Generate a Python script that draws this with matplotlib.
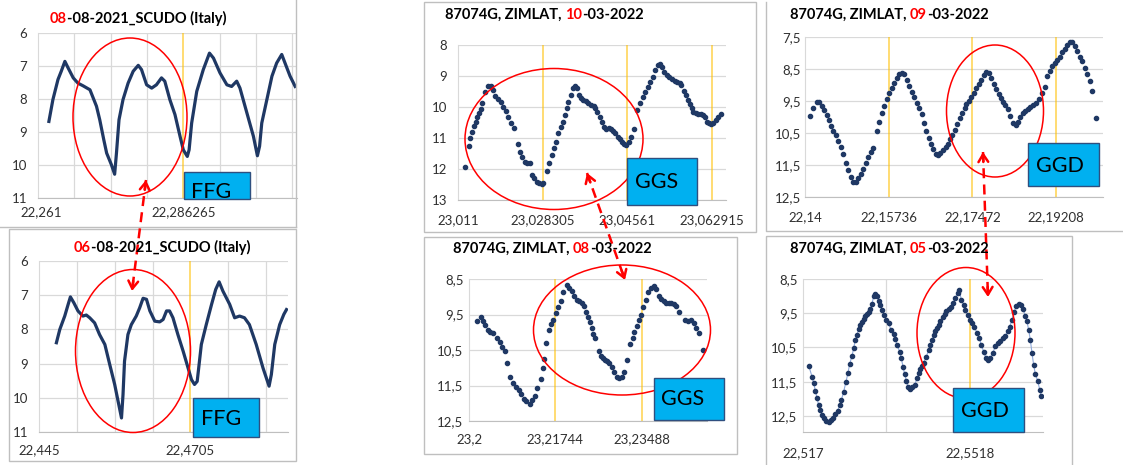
import numpy as np
import matplotlib.pyplot as plt
from matplotlib.patches import Ellipse, Rectangle

plt.rcParams['font.family'] = ['Lato', 'DejaVu Sans']

W, H = 1123, 465
NAVY = '#1F3864'
ORANGE = '#FFC000'
GRID = '#D9D9D9'
FRAME = '#BFBFBF'
TAGBLUE = '#00B0F0'

# ---- data: x in steps between labelled ticks, y as on the axis ----
# 08-08-2021 SCUDO
a_x = [0.30, 0.41, 0.55, 0.64, 0.74, 0.83, 0.97, 1.10, 1.24, 1.35, 1.43, 1.61, 1.70, 1.81, 1.89,
       2.02, 2.11, 2.16, 2.23, 2.34, 2.48, 2.62, 2.76, 2.85, 2.99, 3.13, 3.26, 3.40, 3.49, 3.63,
       3.77, 3.91, 4.00, 4.11, 4.16, 4.23, 4.37, 4.55, 4.72, 4.83, 5.01, 5.20, 5.33, 5.47, 5.56,
       5.75, 5.93, 6.04, 6.10, 6.16, 6.30, 6.44, 6.57, 6.71, 6.80, 6.94, 7.08]
a_y = [8.68, 8.02, 7.41, 7.16, 6.86, 7.06, 7.36, 7.52, 7.60, 7.67, 7.72, 8.22, 8.63, 9.23, 9.64,
       9.99, 10.28, 9.64, 8.63, 8.02, 7.52, 7.16, 6.98, 7.11, 7.57, 7.67, 7.57, 7.36, 7.46, 8.02,
       8.47, 9.13, 9.54, 9.74, 9.54, 8.73, 7.77, 7.11, 6.61, 6.76, 7.21, 7.57, 7.62, 7.46, 7.67,
       8.42, 9.13, 9.72, 9.43, 8.73, 8.02, 7.31, 6.91, 6.65, 6.91, 7.31, 7.62]
# 06-08-2021 SCUDO
b_x = [0.46, 0.55, 0.68, 0.77, 0.83, 0.92, 1.03, 1.16, 1.25, 1.34, 1.47, 1.60, 1.74, 1.87, 2.00,
       2.09, 2.18, 2.22, 2.26, 2.35, 2.44, 2.57, 2.66, 2.75, 2.84, 2.93, 3.06, 3.19, 3.28, 3.37,
       3.45, 3.54, 3.67, 3.81, 3.94, 4.03, 4.11, 4.18, 4.22, 4.29, 4.42, 4.56, 4.67, 4.76, 4.86,
       5.04, 5.17, 5.30, 5.43, 5.56, 5.74, 5.92, 6.08, 6.14, 6.23, 6.36, 6.47, 6.54]
b_y = [8.39, 8.00, 7.61, 7.27, 7.05, 7.22, 7.46, 7.61, 7.58, 7.66, 7.81, 8.15, 8.44, 9.03, 9.61,
       10.10, 10.59, 9.91, 8.93, 8.15, 7.86, 7.61, 7.37, 7.09, 7.12, 7.46, 7.76, 7.78, 7.71, 7.46,
       7.46, 7.66, 8.15, 8.64, 9.13, 9.47, 9.61, 9.52, 9.13, 8.44, 7.86, 7.27, 6.83, 6.61, 6.88,
       7.27, 7.66, 7.61, 7.66, 7.86, 8.44, 9.13, 9.66, 9.32, 8.44, 7.86, 7.56, 7.42]
# 87074G ZIMLAT 10-03-2022
c_x = [0.079, 0.127, 0.146, 0.170, 0.190, 0.210, 0.230, 0.249, 0.269, 0.289,
       0.324, 0.356, 0.388, 0.416, 0.443, 0.475, 0.507, 0.534, 0.566, 0.594,
       0.625, 0.657, 0.704, 0.732, 0.760, 0.791, 0.819, 0.851, 0.879, 0.902,
       0.930, 0.958, 0.989, 1.009, 1.049, 1.080, 1.108, 1.136, 1.163, 1.187,
       1.215, 1.239, 1.266, 1.286, 1.306, 1.334, 1.357, 1.385, 1.405, 1.433,
       1.456, 1.484, 1.512, 1.543, 1.575, 1.603, 1.622, 1.650, 1.674, 1.702,
       1.729, 1.753, 1.781, 1.808, 1.832, 1.860, 1.888, 1.911, 1.939, 1.967,
       1.987, 2.018, 2.046, 2.078, 2.117, 2.157, 2.184, 2.216, 2.244, 2.275,
       2.303, 2.335, 2.362, 2.386, 2.414, 2.442, 2.473, 2.501, 2.533, 2.564,
       2.592, 2.620, 2.643, 2.675, 2.699, 2.723, 2.742, 2.762, 2.782, 2.810,
       2.837, 2.869, 2.897, 2.920, 2.948, 2.968, 2.996, 3.019, 3.047, 3.075, 3.106]
c_y = [11.92, 11.25, 10.99, 10.80, 10.61, 10.47, 10.33, 10.20, 10.08, 9.88,
       9.51, 9.32, 9.32, 9.45, 9.63, 9.74, 9.85, 9.99, 10.13, 10.31,
       10.53, 10.69, 11.19, 11.44, 11.60, 11.78, 11.82, 11.82, 12.19, 12.30,
       12.41, 12.44, 12.48, 12.46, 12.05, 11.82, 11.55, 11.33, 11.12, 10.85,
       10.63, 10.47, 10.26, 10.04, 9.83, 9.61, 9.40, 9.31, 9.40, 9.61,
       9.72, 9.77, 9.80, 9.86, 9.94, 9.97, 10.02, 10.15, 10.31, 10.49,
       10.66, 10.72, 10.69, 10.71, 10.76, 10.85, 10.96, 11.04, 11.12, 11.20,
       11.23, 11.12, 10.96, 10.71, 10.10, 9.88, 9.67, 9.51, 9.37, 9.18,
       9.02, 8.81, 8.65, 8.61, 8.70, 8.86, 8.97, 9.02, 9.10, 9.15,
       9.20, 9.24, 9.30, 9.47, 9.61, 9.77, 9.90, 10.04, 10.15, 10.20,
       10.23, 10.24, 10.26, 10.31, 10.47, 10.53, 10.55, 10.53, 10.42, 10.31, 10.23]
# 87074G ZIMLAT 08-03-2022
d_x = [0.093, 0.135, 0.162, 0.190, 0.220, 0.248, 0.279, 0.325, 0.356, 0.383,
       0.414, 0.441, 0.480, 0.511, 0.542, 0.576, 0.607, 0.638, 0.665, 0.704,
       0.731, 0.762, 0.789, 0.828, 0.851, 0.867, 0.890, 0.925, 0.948, 0.975,
       1.002, 1.033, 1.060, 1.091, 1.130, 1.157, 1.188, 1.215, 1.246, 1.273,
       1.304, 1.331, 1.354, 1.381, 1.400, 1.420, 1.439, 1.458, 1.509, 1.524,
       1.547, 1.574, 1.602, 1.625, 1.652, 1.679, 1.710, 1.737, 1.768, 1.795,
       1.826, 1.865, 1.892, 1.915, 1.942, 1.969, 1.992, 2.019, 2.050, 2.077,
       2.108, 2.135, 2.162, 2.193, 2.220, 2.251, 2.282, 2.309, 2.336, 2.367,
       2.394, 2.425, 2.495, 2.534, 2.569, 2.600, 2.631, 2.658, 2.708]
d_y = [9.68, 9.56, 9.68, 9.79, 9.93, 10.00, 10.01, 10.17, 10.28, 10.41,
       10.53, 10.86, 11.25, 11.44, 11.54, 11.63, 11.75, 11.87, 11.94, 12.01,
       11.92, 11.80, 11.58, 11.32, 11.00, 10.74, 10.29, 9.93, 9.77, 9.65,
       9.46, 9.30, 9.13, 8.88, 8.66, 8.74, 8.85, 8.97, 9.08, 9.13,
       9.18, 9.27, 9.42, 9.58, 9.72, 9.89, 10.06, 10.17, 10.52, 10.66,
       10.72, 10.78, 10.81, 10.88, 10.97, 11.11, 11.25, 11.30, 11.25, 11.13,
       10.78, 10.34, 10.17, 9.98, 9.81, 9.65, 9.51, 9.30, 9.08, 8.88,
       8.75, 8.71, 8.78, 8.99, 9.07, 9.13, 9.18, 9.18, 9.18, 9.21,
       9.27, 9.42, 9.65, 9.67, 9.65, 9.75, 9.89, 10.01, 10.50]
# 87074G ZIMLAT 09-03-2022
e_x = [0.060, 0.099, 0.139, 0.171, 0.203, 0.231, 0.258, 0.286, 0.310, 0.338,
       0.370, 0.398, 0.425, 0.457, 0.485, 0.517, 0.545, 0.577, 0.604, 0.636,
       0.668, 0.696, 0.728, 0.755, 0.783, 0.815, 0.855, 0.883, 0.915, 0.942,
       0.974, 1.006, 1.034, 1.066, 1.093, 1.121, 1.153, 1.185, 1.213, 1.241,
       1.272, 1.300, 1.332, 1.360, 1.392, 1.420, 1.451, 1.479, 1.503, 1.531,
       1.559, 1.590, 1.618, 1.650, 1.678, 1.702, 1.730, 1.761, 1.789, 1.817,
       1.849, 1.877, 1.905, 1.928, 1.956, 1.988, 2.016, 2.048, 2.076, 2.107,
       2.135, 2.167, 2.199, 2.227, 2.258, 2.286, 2.314, 2.338, 2.366, 2.394,
       2.425, 2.453, 2.485, 2.517, 2.545, 2.573, 2.604, 2.632, 2.664, 2.692,
       2.724, 2.755, 2.795, 2.835, 2.863, 2.891, 2.922, 2.950, 2.982, 3.010,
       3.042, 3.074, 3.101, 3.129, 3.161, 3.193, 3.221, 3.249, 3.280, 3.308,
       3.340, 3.372, 3.399, 3.431, 3.479]
e_y = [9.97, 9.73, 9.52, 9.52, 9.65, 9.78, 9.94, 10.09, 10.28, 10.44,
       10.56, 10.75, 10.95, 11.16, 11.45, 11.66, 11.87, 12.03, 12.03, 11.92,
       11.77, 11.61, 11.45, 11.24, 11.09, 10.98, 10.44, 10.15, 9.88, 9.65,
       9.44, 9.26, 9.10, 8.94, 8.79, 8.65, 8.61, 8.65, 8.84, 9.03,
       9.21, 9.39, 9.55, 9.73, 9.92, 10.18, 10.44, 10.67, 10.85, 11.00,
       11.17, 11.19, 11.12, 11.04, 10.95, 10.83, 10.70, 10.56, 10.41, 10.23,
       10.04, 9.88, 9.73, 9.60, 9.49, 9.36, 9.24, 9.10, 8.96, 8.84,
       8.68, 8.58, 8.63, 8.79, 8.96, 9.13, 9.29, 9.41, 9.52, 9.62,
       9.76, 9.97, 10.18, 10.25, 10.15, 9.99, 9.88, 9.81, 9.75, 9.70,
       9.62, 9.55, 9.45, 9.26, 9.07, 8.71, 8.55, 8.42, 8.32, 8.21,
       8.11, 7.98, 7.88, 7.76, 7.66, 7.66, 7.79, 7.95, 8.11, 8.24,
       8.47, 8.65, 8.86, 9.18, 10.02]
# 87074G ZIMLAT 05-03-2022
f_x = [0.068, 0.108, 0.128, 0.148, 0.168, 0.188, 0.208, 0.228, 0.256, 0.280,
       0.308, 0.336, 0.360, 0.388, 0.416, 0.440, 0.460, 0.488, 0.516, 0.540,
       0.560, 0.588, 0.608, 0.628, 0.648, 0.668, 0.688, 0.708, 0.728, 0.748,
       0.768, 0.788, 0.808, 0.828, 0.848, 0.868, 0.888, 0.908, 0.928, 0.948,
       0.976, 1.000, 1.028, 1.056, 1.088, 1.108, 1.128, 1.160, 1.180, 1.200,
       1.220, 1.240, 1.260, 1.280, 1.308, 1.340, 1.368, 1.388, 1.408, 1.428,
       1.448, 1.480, 1.508, 1.528, 1.548, 1.568, 1.588, 1.608, 1.628, 1.648,
       1.676, 1.700, 1.720, 1.748, 1.776, 1.800, 1.828, 1.856, 1.876, 1.900,
       1.928, 1.948, 1.976, 2.000, 2.028, 2.056, 2.088, 2.116, 2.140, 2.168,
       2.196, 2.220, 2.248, 2.276, 2.308, 2.336, 2.368, 2.400, 2.428, 2.456,
       2.480, 2.508, 2.536, 2.560, 2.588, 2.616, 2.640, 2.668, 2.688, 2.708,
       2.728, 2.748, 2.768, 2.788, 2.816, 2.840, 2.860]
f_y = [11.03, 11.35, 11.53, 11.77, 11.97, 12.19, 12.33, 12.48, 12.55, 12.64,
       12.67, 12.61, 12.55, 12.45, 12.35, 12.19, 12.04, 11.79, 11.50, 11.24,
       10.98, 10.75, 10.52, 10.28, 10.13, 9.97, 9.84, 9.76, 9.67, 9.59,
       9.52, 9.45, 9.37, 9.22, 9.01, 8.93, 8.99, 9.14, 9.25, 9.40,
       9.55, 9.69, 9.79, 9.99, 10.10, 10.26, 10.43, 10.62, 10.82, 11.06,
       11.28, 11.47, 11.65, 11.70, 11.65, 11.60, 11.40, 11.26, 11.14, 11.04,
       10.94, 10.77, 10.57, 10.43, 10.28, 10.13, 10.02, 9.94, 9.84, 9.74,
       9.61, 9.52, 9.43, 9.38, 9.32, 9.20, 9.06, 8.91, 8.83, 9.11,
       9.25, 9.40, 9.55, 9.69, 9.79, 9.89, 10.08, 10.23, 10.43, 10.62,
       10.82, 10.87, 10.82, 10.67, 10.47, 10.38, 10.30, 10.23, 10.16, 10.03,
       9.89, 9.69, 9.45, 9.28, 9.22, 9.25, 9.38, 9.58, 9.74, 9.99,
       10.28, 10.67, 11.01, 11.28, 11.47, 11.73, 11.91]

# tick labels
a_xlab = ['22,261', '22,286265']
b_xlab = ['22,445', '22,4705']
c_xlab = ['23,011', '23,028305', '23,04561', '23,062915']
d_xlab = ['23,2', '23,21744', '23,23488']
e_xlab = ['22,14', '22,15736', '22,17472', '22,19208']
f_xlab = ['22,517', '22,5518']
scudo_yt = [6, 7, 8, 9, 10, 11]
c_yt = [8, 9, 10, 11, 12, 13]
half_yt = [7.5, 8.5, 9.5, 10.5, 11.5, 12.5]


def lab(v):
    return ('%g' % v).replace('.', ',')


def make_axes(fig, box):
    x0, y0, x1, y1 = box
    return fig.add_axes([x0 / W, 1 - y1 / H, (x1 - x0) / W, (y1 - y0) / H])


def style_axes(ax, xlim, ylim, yticks, xticks, xlabels, grayv, orangev, xpad, ypad):
    ax.set_xlim(xlim)
    ax.set_ylim(ylim)
    ax.set_yticks(yticks, [lab(v) for v in yticks])
    ax.set_xticks(xticks, xlabels)
    ax.tick_params(length=0, labelsize=9.5, labelcolor='#303030')
    ax.tick_params(axis='x', pad=xpad)
    ax.tick_params(axis='y', pad=ypad)
    for y in yticks:
        ax.axhline(y, color=GRID, lw=0.9, zorder=0)
    for x in grayv:
        ax.axvline(x, color=GRID, lw=0.9, zorder=0)
    for x in orangev:
        ax.axvline(x, color=ORANGE, lw=1.1, alpha=0.7, zorder=0)
    ax.spines['top'].set_visible(False)
    ax.spines['right'].set_visible(False)
    ax.spines['left'].set_color(GRID)
    ax.spines['bottom'].set_color(FRAME)
    ax.patch.set_alpha(0)


def title(ov, x, y, parts):
    t = None
    for s, c in parts:
        if t is None:
            t = ov.text(x, y, s, color=c, fontsize=10.5, fontweight='bold', ha='left', va='center')
        else:
            t = ov.annotate(s, xy=(1, 0), xycoords=t, color=c, fontsize=10.5,
                            fontweight='bold', ha='left', va='bottom')


def tag(ov, box, tx, ty, s):
    x0, y0, x1, y1 = box
    ov.add_patch(Rectangle((x0, y0), x1 - x0, y1 - y0, facecolor=TAGBLUE,
                           edgecolor='#2F4F7F', lw=1))
    ov.text(tx, ty, s, fontsize=15.5, ha='left', va='center', color='black')


def dashed_arrow(ov, p0, p1):
    p0 = np.array(p0, float)
    p1 = np.array(p1, float)
    ov.plot([p0[0], p1[0]], [p0[1], p1[1]], color='red', lw=1.8, ls=(0, (4, 2.5)))
    d = (p1 - p0) / np.hypot(*(p1 - p0))
    for tip, back in ((p0, p0 + 10 * d), (p1, p1 - 10 * d)):
        ov.annotate('', xy=tip, xytext=back,
                    arrowprops=dict(arrowstyle='->,head_length=0.55,head_width=0.35',
                                    color='red', lw=1.8, shrinkA=0, shrinkB=0))


fig = plt.figure(figsize=(W / 100, H / 100), dpi=100)

# SCUDO panels
ax = make_axes(fig, (38, 33, 297, 198))
style_axes(ax, (0, 7.13), (11, 6), scudo_yt, [0.1, 4], a_xlab, [1, 2, 3, 5, 6, 7], [4], 6, 8)
ax.plot(a_x, a_y, color=NAVY, lw=2.3)

ax = make_axes(fig, (39, 261, 288, 432))
style_axes(ax, (0, 6.58), (11, 6), scudo_yt, [0, 4], b_xlab, [1, 2, 3, 5, 6], [4], 9, 8)
ax.plot(b_x, b_y, color=NAVY, lw=2.3)

# ZIMLAT panels
ax = make_axes(fig, (458, 45, 726, 200))
style_axes(ax, (0, 3.17), (13, 8), c_yt, [0, 1, 2, 3], c_xlab, [], [1, 2, 3], 10, 8)
ax.plot(c_x, c_y, 'o', color=NAVY, ms=3)

ax = make_axes(fig, (469, 279, 707, 421))
style_axes(ax, (0, 2.754), (12.5, 8.5), half_yt[1:], [0, 1, 2], d_xlab, [], [1, 2], 9, 4)
ax.plot(d_x, d_y, 'o', color=NAVY, ms=3)

ax = make_axes(fig, (805, 37, 1103, 197))
style_axes(ax, (0, 3.559), (12.5, 7.5), half_yt, [0, 1, 2, 3], e_xlab, [], [1, 2, 3], 10, 3)
ax.plot(e_x, e_y, 'o', color=NAVY, ms=3)

ax = make_axes(fig, (803, 279, 1043, 432))
style_axes(ax, (0, 2.88), (12.97, 8.5), half_yt[1:], [0, 2], f_xlab, [1], [2], 11, 4)
ax.plot(f_x, f_y, '-', color='#8EA9DB', lw=0.8)
ax.plot(f_x, f_y, 'o', color=NAVY, ms=3)

# overlay in pixel coordinates: frames, titles, ellipses, tags, arrows
ov = fig.add_axes([0, 0, 1, 1])
ov.set_xlim(0, W)
ov.set_ylim(H, 0)
ov.axis('off')

ov.plot([296, 296], [0, 227], color=FRAME, lw=1)
ov.plot([0, 296], [227, 227], color=FRAME, lw=1)
for x0, y0, x1, y1 in [(9, 229, 296, 461), (424, 2, 756, 232), (424, 237, 737, 454),
                       (766, 236, 1072, 472)]:
    ov.add_patch(Rectangle((x0, y0), x1 - x0, y1 - y0, fill=False, edgecolor=FRAME, lw=1))
ov.plot([766, 766, 1123], [2, 231, 231], color=FRAME, lw=1)

title(ov, 50, 19, [('08', 'red'), ('-08-2021_SCUDO (Italy)', 'black')])
title(ov, 74, 248, [('06', 'red'), ('-08-2021_SCUDO (Italy)', 'black')])
title(ov, 445, 15, [('87074G, ZIMLAT, ', 'black'), ('10', 'red'), ('-03-2022', 'black')])
title(ov, 453, 249, [('87074G, ZIMLAT, ', 'black'), ('08', 'red'), ('-03-2022', 'black')])
title(ov, 790, 15, [('87074G, ZIMLAT, ', 'black'), ('09', 'red'), ('-03-2022', 'black')])
title(ov, 790, 249, [('87074G, ZIMLAT, ', 'black'), ('05', 'red'), ('-03-2022', 'black')])

for cx, cy, w, h in [(130, 117, 114, 158), (133, 351, 115, 163), (554, 139, 178, 141),
                     (622, 330, 177, 130), (995, 111, 97, 132), (966, 333, 98, 131)]:
    ov.add_patch(Ellipse((cx, cy), w, h, fill=False, edgecolor='red', lw=1.1))

tag(ov, (184, 172, 250, 199), 191, 192, 'FFG')
tag(ov, (193, 398, 259, 437), 201, 419, 'FFG')
tag(ov, (627, 158, 697, 205), 635, 182, 'GGS')
tag(ov, (654, 378, 724, 420), 661, 399, 'GGS')
tag(ov, (1028, 143, 1099, 186), 1036, 166, 'GGD')
tag(ov, (953, 388, 1024, 432), 961, 411, 'GGD')

dashed_arrow(ov, (146, 180), (132, 291))
dashed_arrow(ov, (587, 173), (625, 280))
dashed_arrow(ov, (983, 152), (988, 297))

fig.savefig('out.png', dpi=100)
